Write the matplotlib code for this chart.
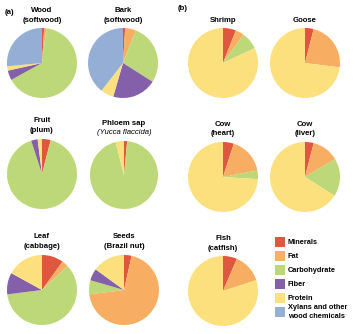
import matplotlib.pyplot as plt

plt.rcParams['font.family'] = ['Liberation Sans', 'DejaVu Sans']

# Composition categories (percent of dry weight), in drawing order
categories = ['Minerals', 'Fat', 'Carbohydrate', 'Fiber', 'Protein',
              'Xylans and other\nwood chemicals']
colors = ['#e0573f', '#f8ae62', '#bdd878', '#8560aa', '#fde07e', '#94aed6']

wood = [1, 1, 65, 4.5, 2, 26.5]
bark = [1, 5, 28, 20.5, 6, 39.5]
fruit = [4, 0, 91, 3, 2, 0]
phloem = [1.5, 0, 94.5, 0, 4, 0]
leaf = [10, 3, 60, 10, 17, 0]
seeds = [3.5, 69.5, 6.5, 5.5, 15, 0]
shrimp = [6, 4, 8, 0, 82, 0]
goose = [4, 23, 0, 0, 73, 0]
cow_heart = [5, 17, 4, 0, 74, 0]
cow_liver = [4, 12.5, 17.5, 0, 66, 0]
fish = [6.5, 13.5, 0, 0, 80, 0]

W, H = 355, 334
fig = plt.figure(figsize=(W / 100, H / 100), dpi=100)

# (values, title line 1, title line 2, italic 2nd line, centre x, centre y, radius) in px
pies = [
    (wood, 'Wood', '(softwood)', False, 42, 63, 35),
    (bark, 'Bark', '(softwood)', False, 123, 63, 35),
    (shrimp, 'Shrimp', None, False, 223, 63, 35),
    (goose, 'Goose', None, False, 305, 63, 35),
    (fruit, 'Fruit', '(plum)', False, 42, 174, 35),
    (phloem, 'Phloem sap', '(Yucca flaccida)', True, 124, 175, 34),
    (cow_heart, 'Cow', '(heart)', False, 223, 177, 35),
    (cow_liver, 'Cow', '(liver)', False, 305, 177, 35),
    (leaf, 'Leaf', '(cabbage)', False, 42, 290, 35),
    (seeds, 'Seeds', '(Brazil nut)', False, 124, 290, 35),
    (fish, 'Fish', '(catfish)', False, 223, 291, 35),
]

fs = 5.6

for vals, t1, t2, ital, cx, cy, r in pies:
    ax = fig.add_axes([(cx - r) / W, 1 - (cy + r) / H, 2 * r / W, 2 * r / H])
    ax.pie(vals, colors=colors, startangle=90, counterclock=False,
           wedgeprops=dict(linewidth=0))
    ax.set_xlim(-1, 1)
    ax.set_ylim(-1, 1)
    ax.axis('off')
    if t2 is None:
        fig.text(cx / W, 1 - (cy - r - 8) / H, t1, ha='center', va='center',
                 fontsize=fs, fontweight='bold')
    else:
        fig.text(cx / W, 1 - (cy - r - 18) / H, t1, ha='center', va='center',
                 fontsize=fs, fontweight='bold')
        fig.text(cx / W, 1 - (cy - r - 8) / H, t2, ha='center', va='center',
                 fontsize=fs, fontweight='normal' if ital else 'bold',
                 fontstyle='italic' if ital else 'normal')

fig.text(5 / W, 1 - 12 / H, '(a)', ha='left', va='center', fontsize=fs, fontweight='bold')
fig.text(178 / W, 1 - 8 / H, '(b)', ha='left', va='center', fontsize=fs, fontweight='bold')

# Legend: colour swatches with labels
row_y = [242, 256, 270, 284, 298, 312]
for cat, col, y in zip(categories, colors, row_y):
    fig.patches.append(plt.Rectangle((275 / W, 1 - (y + 5) / H), 10 / W, 10 / H,
                                     transform=fig.transFigure, color=col, lw=0))
    fig.text(288 / W, 1 - y / H, cat, ha='left', va='center', fontsize=5.3,
             fontweight='bold', linespacing=1.25)

fig.savefig('out.png', dpi=100)
